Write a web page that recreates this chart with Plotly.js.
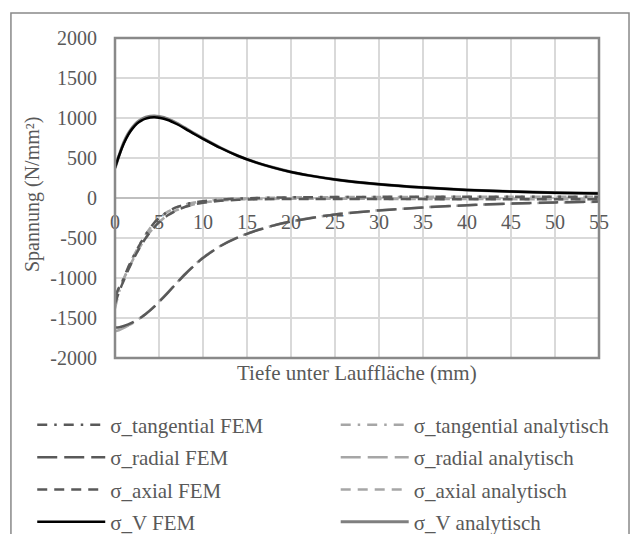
<!DOCTYPE html>
<html>
<head>
<meta charset="utf-8">
<script src="https://cdn.plot.ly/plotly-3.0.1.min.js"></script>
<style>
html,body{margin:0;padding:0;background:#fff;}
#chart{width:630px;height:534px;}
</style>
</head>
<body>
<div id="chart"></div>
<script>
// Depth below running surface (mm)
const depth = [0,0.5,1,1.5,2,2.5,3,3.5,4,4.5,5,6,7,8,9,10,12,14,16,18,20,22,25,30,35,40,45,50,55];

const tangFEM = [-1230,-1110,-1000,-865,-750,-645,-545,-455,-375,-305,-250,-170,-115,-80,-55,-40,-20,-8,0,5,8,10,12,14,15,16,16,16,16];
const tangAna = [-1380,-1160,-1010,-870,-752,-646,-546,-456,-376,-306,-251,-171,-116,-81,-56,-41,-21,-9,-1,4,7,9,11,13,14,15,15,15,15];
const radFEM  = [-1620,-1615,-1600,-1580,-1555,-1525,-1490,-1450,-1405,-1355,-1300,-1185,-1065,-950,-845,-750,-600,-490,-410,-345,-295,-255,-205,-155,-118,-90,-70,-55,-45];
const radAna  = [-1665,-1650,-1625,-1595,-1565,-1530,-1490,-1448,-1400,-1350,-1295,-1180,-1060,-945,-840,-745,-597,-488,-408,-344,-294,-254,-205,-154,-118,-90,-71,-57,-48];
const axFEM   = [-1320,-1160,-1030,-900,-785,-680,-585,-500,-425,-360,-305,-215,-155,-110,-80,-60,-35,-22,-16,-13,-12,-12,-12,-13,-14,-15,-16,-17,-17];
const axAna   = [-1250,-1120,-1010,-890,-780,-676,-582,-498,-423,-358,-303,-213,-153,-108,-78,-58,-33,-20,-14,-11,-10,-10,-10,-11,-12,-13,-14,-15,-15];
const vFEM    = [380,540,680,790,870,930,968,992,1005,1008,1002,975,925,865,800,740,625,525,445,380,325,283,232,172,130,100,80,66,57];
const vAna    = [370,545,695,805,885,945,985,1010,1022,1025,1018,990,938,875,808,746,628,527,446,381,326,283,232,172,131,101,81,67,58];

const names = ["σ_tangential FEM","σ_tangential analytisch","σ_radial FEM","σ_radial analytisch","σ_axial FEM","σ_axial analytisch","σ_V FEM","σ_V analytisch"];
const xTickVals = [0,5,10,15,20,25,30,35,40,45,50,55];
const yTickVals = [-2000,-1500,-1000,-500,0,500,1000,1500,2000];

const dark = "#595959", light = "#a6a6a6";
const dDashDot = "10px,7px,2.5px,7px";
const dLong = "20px,7px";
const dDash = "10px,7px";

function tr(y, name, color, dash, width, legend, rank){
  return {x: depth, y: y, name: name, type: "scatter", mode: "lines",
    legend: legend, legendgroup: name, legendrank: rank,
    line: {color: color, width: width || 2.5, dash: dash, shape: "spline", smoothing: 0.6}};
}
const data = [
  tr(tangAna, names[1], light, dDashDot, 2.5, "legend2", 1),
  tr(radAna, names[3], light, dLong, 2.5, "legend2", 2),
  tr(axAna, names[5], light, dDash, 2.5, "legend2", 3),
  tr(vAna, names[7], "#7f7f7f", "solid", 3, "legend2", 4),
  tr(tangFEM, names[0], dark, dDashDot, 2.5, "legend", 1),
  tr(radFEM, names[2], dark, dLong, 2.5, "legend", 2),
  tr(axFEM, names[4], dark, dDash, 2.5, "legend", 3),
  tr(vFEM, names[6], "#000000", "solid", 2.5, "legend", 4)
];

const fam = "Liberation Serif, Times New Roman, serif";
const tickFont = {family: fam, size: 20, color: "#595959"};
const legFont = {family: fam, size: 21, color: "#595959"};

const legCommon = {orientation: "v", yanchor: "top", xanchor: "left", itemwidth: 68,
  tracegroupgap: 2, font: legFont, bgcolor: "rgba(0,0,0,0)", traceorder: "grouped"};

const layout = {
  width: 630, height: 534,
  margin: {l: 115, r: 31, t: 38, b: 176, autoexpand: false},
  paper_bgcolor: "#ffffff", plot_bgcolor: "#ffffff",
  font: tickFont,
  showlegend: true,
  legend: Object.assign({x: -0.171, y: -0.146}, legCommon),
  legend2: Object.assign({x: 0.456, y: -0.146}, legCommon),
  xaxis: {range: [0, 55], tickvals: xTickVals, ticktext: xTickVals.map(String),
    anchor: "free", position: 0.5, showline: false, zeroline: false,
    showgrid: true, gridcolor: "#d9d9d9", gridwidth: 1.5,
    ticks: "", ticklabelstandoff: 10, tickfont: tickFont, fixedrange: true},
  yaxis: {range: [-2000, 2000], tickvals: yTickVals, ticktext: yTickVals.map(String),
    showline: false, zeroline: true, zerolinecolor: "#bfbfbf", zerolinewidth: 2,
    showgrid: true, gridcolor: "#d9d9d9", gridwidth: 1.5,
    ticks: "", ticklabelstandoff: 17, tickfont: tickFont, automargin: false},
  annotations: [
    {text: "Tiefe unter Lauffläche (mm)", xref: "paper", yref: "paper",
     x: 0.5, y: -0.046, xanchor: "center", yanchor: "middle", showarrow: false,
     font: {family: fam, size: 21, color: "#595959"}},
    {text: "Spannung (N/mm²)", xref: "paper", yref: "paper", textangle: -90,
     x: -0.169, y: 0.51, xanchor: "center", yanchor: "middle", showarrow: false,
     font: {family: fam, size: 20, color: "#595959"}}
  ],
  shapes: [
    {type: "rect", xref: "paper", yref: "paper", x0: 0, x1: 1, y0: 0, y1: 1,
     line: {color: "#898989", width: 2.5}, layer: "above"},
    {type: "rect", xref: "paper", yref: "paper", x0: -0.215, x1: 1.062, y0: -0.65, y1: 1.078,
     line: {color: "#898989", width: 1.5}, layer: "above"}
  ]
};

Plotly.newPlot("chart", data, layout, {staticPlot: true, displayModeBar: false});
</script>
</body>
</html>
